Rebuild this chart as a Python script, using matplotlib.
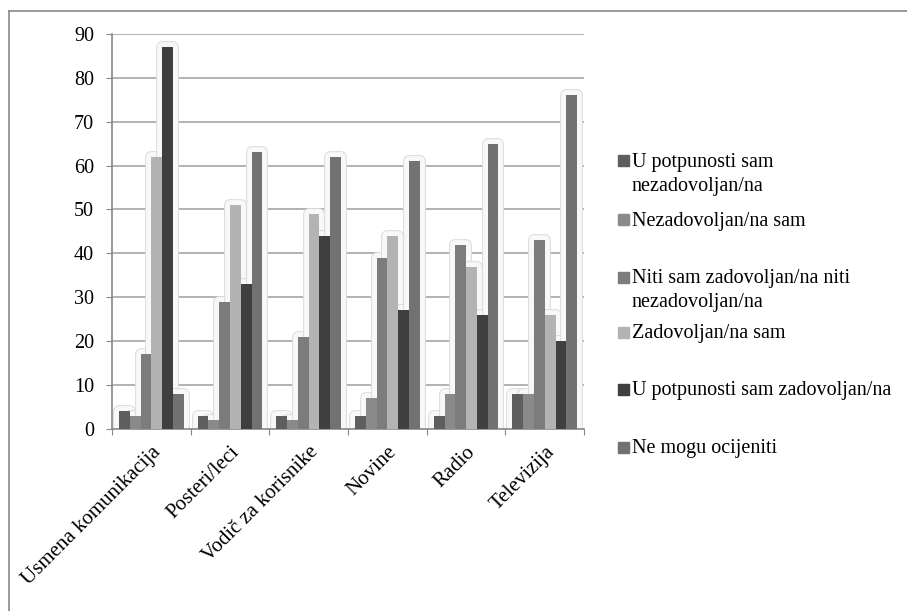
import matplotlib.pyplot as plt
import matplotlib.patheffects as pe
from matplotlib.patches import Rectangle
from matplotlib.lines import Line2D
import numpy as np

categories = ["Usmena komunikacija", "Posteri/leci", "Vodič za korisnike",
              "Novine", "Radio", "Televizija"]

series_names = [
    "U potpunosti sam\nnezadovoljan/na",
    "Nezadovoljan/na sam",
    "Niti sam zadovoljan/na niti\nnezadovoljan/na",
    "Zadovoljan/na sam",
    "U potpunosti sam zadovoljan/na",
    "Ne mogu ocijeniti",
]

potpuno_nezadovoljan = [4, 3, 3, 3, 3, 8]
nezadovoljan = [3, 2, 2, 7, 8, 8]
niti_niti = [17, 29, 21, 39, 42, 43]
zadovoljan = [62, 51, 49, 44, 37, 26]
potpuno_zadovoljan = [87, 33, 44, 27, 26, 20]
ne_mogu = [8, 63, 62, 61, 65, 76]

values = [potpuno_nezadovoljan, nezadovoljan, niti_niti,
          zadovoljan, potpuno_zadovoljan, ne_mogu]

colors = ["#5e5e5e", "#8a8a8a", "#7c7c7c", "#b3b3b3", "#3f3f3f", "#727272"]

plt.rcParams['font.family'] = ['Liberation Serif', 'DejaVu Serif']

fig = plt.figure(figsize=(9.07, 6.11), dpi=100)
ax = fig.add_axes([0.1235, 0.298, 0.5205, 0.6465])

x = np.arange(len(categories)) + 0.5
bar_w = 0.137
offsets = (np.arange(6) - 2.5) * bar_w

# soft glow behind each bar group
glow = [pe.Stroke(linewidth=8.5, foreground="#dcdcdc", joinstyle="round"),
        pe.Stroke(linewidth=7, foreground="#f8f8f8", joinstyle="round")]
for i, vals in enumerate(values):
    bars = ax.bar(x + offsets[i], vals, width=bar_w, color="#f8f8f8",
                  linewidth=0, zorder=2)
    for b in bars:
        b.set_path_effects(glow)

for i, vals in enumerate(values):
    ax.bar(x + offsets[i], vals, width=bar_w, color=colors[i],
           linewidth=0, zorder=3)

ax.set_xlim(0, 6)
ax.set_ylim(0, 90)
ax.set_yticks(range(0, 91, 10))
ax.yaxis.grid(True, color="#a6a6a6", linewidth=1.2, zorder=0)
ax.set_axisbelow(True)

ax.set_xticks(range(0, 7))
ax.set_xticklabels([])
ax.set_xticks(x, minor=True)
ax.set_xticklabels(categories, minor=True, rotation=45, ha="right",
                   rotation_mode="anchor", fontsize=15)
ax.tick_params(axis="x", which="minor", length=0, pad=10)
ax.tick_params(axis="x", which="major", length=4, color="#888888",
               direction="out")
ax.tick_params(axis="y", length=4, color="#888888", labelsize=14.5, pad=9)

for side in ["top", "right"]:
    ax.spines[side].set_visible(False)
for side in ["left", "bottom"]:
    ax.spines[side].set_color("#888888")
    ax.spines[side].set_linewidth(1.2)

# legend on the right
legend_y = [0.7365, 0.640, 0.5466, 0.4566, 0.3633, 0.2684]
for name, col, ly in zip(series_names, colors, legend_y):
    fig.patches.append(Rectangle((0.681, ly - 0.009), 0.0121, 0.018,
                                 transform=fig.transFigure, color=col,
                                 figure=fig))
    fig.text(0.6965, ly + 0.0135, name, fontsize=14.5, va="top", ha="left",
             linespacing=1.4)

# outer frame (top and left edge)
fig.add_artist(Line2D([0.0095, 1.0], [0.982, 0.982], color="#888888",
                      linewidth=1.2, transform=fig.transFigure))
fig.add_artist(Line2D([0.0095, 0.0095], [0.0, 0.982], color="#888888",
                      linewidth=1.2, transform=fig.transFigure))

fig.savefig("out.png", dpi=100, facecolor="white")
